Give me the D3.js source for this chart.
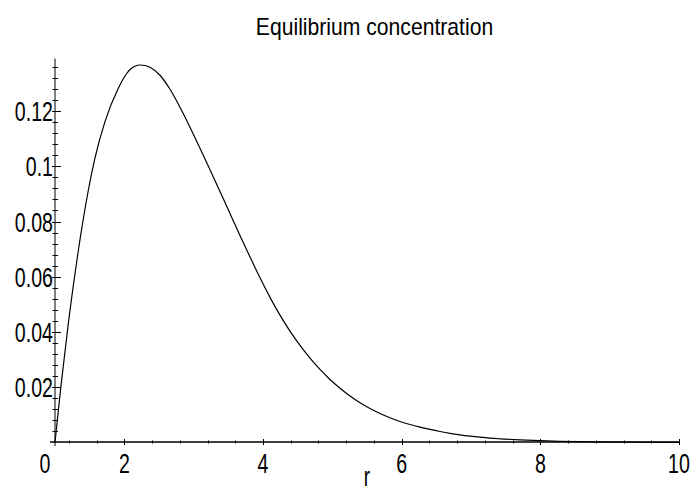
<!DOCTYPE html>
<html>
<head>
<meta charset="utf-8">
<script src="https://cdn.jsdelivr.net/npm/d3@7"></script>
<style>
  body { margin: 0; background: #fff; }
  text { font-family: "Liberation Sans", Arial, sans-serif; fill: #000; }
</style>
</head>
<body>
<div id="chart-area"></div>
<script>
const WIDTH = 698;
const HEIGHT = 490;

// values
const rValues = [1, 1.082, 1.192, 1.327, 1.48, 1.577, 1.721, 1.913, 2.034, 2.082, 2.154, 2.226,
    2.298, 2.37, 2.514, 2.659, 2.803, 2.947, 3.091, 3.236, 3.38, 3.524, 3.668, 3.813, 3.957,
    4.101, 4.245, 4.389, 4.534, 4.678, 4.822, 4.966, 5.111, 5.255, 5.399, 5.543, 5.688, 5.832,
    5.976, 6.12, 6.264, 6.409, 6.553, 6.697, 6.841, 6.986, 7.13, 7.274, 7.418, 7.707, 7.995,
    8.284, 8.572, 9.005, 9.438, 10];
const concValues = [0, 0.01962, 0.04308, 0.06787, 0.09122, 0.10299, 0.11613, 0.12822, 0.13357,
    0.13502, 0.13622, 0.13665, 0.13647, 0.13584, 0.13294, 0.12787, 0.12136, 0.11412, 0.10652,
    0.09873, 0.09084, 0.08288, 0.07491, 0.06713, 0.0596, 0.05254, 0.0461, 0.04031, 0.03513,
    0.03053, 0.02644, 0.02282, 0.01964, 0.01685, 0.01443, 0.01233, 0.01052, 0.00896, 0.00762,
    0.0065, 0.00554, 0.00472, 0.00398, 0.00333, 0.00279, 0.00232, 0.00192, 0.00159, 0.00134,
    0.00094, 0.00065, 0.00043, 0.00029, 0.00016, 0.00009, 0.00004];

const xTickLabels = [2, 4, 6, 8, 10];
const yTickLabels = [0.02, 0.04, 0.06, 0.08, 0.1, 0.12];
const xMinorTicks = d3.range(1.2, 10.01, 0.4);
const yMinorTicks = d3.range(0.004, 0.1391, 0.004);

const title = "Equilibrium concentration";
const xLabel = "r";
const originLabel = "0";

const x = d3.scaleLinear().domain([1, 10]).range([55, 679]);
const y = d3.scaleLinear().domain([0, 0.14]).range([442.5, 55.75]);

const svg = d3.select('#chart-area').append('svg')
    .attr("width", WIDTH)
    .attr("height", HEIGHT)
    .style("display", "block");

svg.append("rect")
    .attr("width", WIDTH)
    .attr("height", HEIGHT)
    .attr("fill", "#fff");

// y axis (grey, as in the picture)
const yAxisX = x(1);
svg.append("line")
    .attr("x1", yAxisX).attr("x2", yAxisX)
    .attr("y1", y(0.139)).attr("y2", 446)
    .attr("stroke", "#808080")
    .attr("stroke-width", 2);

svg.append("g")
    .selectAll("line")
    .data(yMinorTicks)
    .join("line")
    .attr("x1", yAxisX - 2.5).attr("x2", yAxisX + 3)
    .attr("y1", d => Math.round(y(d)) + 0.5)
    .attr("y2", d => Math.round(y(d)) + 0.5)
    .attr("stroke", "#000")
    .attr("stroke-width", 1);

svg.append("g")
    .selectAll("line")
    .data(yTickLabels)
    .join("line")
    .attr("x1", yAxisX - 3).attr("x2", yAxisX + 6)
    .attr("y1", d => Math.round(y(d)) + 0.5)
    .attr("y2", d => Math.round(y(d)) + 0.5)
    .attr("stroke", "#000")
    .attr("stroke-width", 1);

svg.append("g")
    .selectAll("text")
    .data(yTickLabels)
    .join("text")
    .attr("transform", d => `translate(53,${y(d) + 10}) scale(0.7,1)`)
    .attr("text-anchor", "end")
    .attr("font-size", 28)
    .text(d => String(d));

// x axis
const xAxisY = 442;
svg.append("line")
    .attr("x1", 50).attr("x2", x(10))
    .attr("y1", xAxisY).attr("y2", xAxisY)
    .attr("stroke", "#000")
    .attr("stroke-width", 1.3);

svg.append("g")
    .selectAll("line")
    .data(xMinorTicks)
    .join("line")
    .attr("x1", d => Math.round(x(d)) + 0.5)
    .attr("x2", d => Math.round(x(d)) + 0.5)
    .attr("y1", xAxisY - 1.5).attr("y2", xAxisY + 1.5)
    .attr("stroke", "#000")
    .attr("stroke-width", 1);

svg.append("g")
    .selectAll("line")
    .data(xTickLabels)
    .join("line")
    .attr("x1", d => Math.round(x(d)) + 0.5)
    .attr("x2", d => Math.round(x(d)) + 0.5)
    .attr("y1", xAxisY - 3).attr("y2", xAxisY + 3)
    .attr("stroke", "#000")
    .attr("stroke-width", 1);

svg.append("g")
    .selectAll("text")
    .data(xTickLabels)
    .join("text")
    .attr("transform", d => `translate(${x(d)},472.5) scale(0.7,1)`)
    .attr("text-anchor", "middle")
    .attr("font-size", 28)
    .text(d => String(d));

svg.append("text")
    .attr("transform", `translate(45,472.5) scale(0.7,1)`)
    .attr("text-anchor", "middle")
    .attr("font-size", 28)
    .text(originLabel);

svg.append("text")
    .attr("transform", `translate(367,486) scale(0.7,1)`)
    .attr("text-anchor", "middle")
    .attr("font-size", 27)
    .text(xLabel);

// title
svg.append("text")
    .attr("transform", `translate(374.5,34.5) scale(0.92,1)`)
    .attr("text-anchor", "middle")
    .attr("font-size", 23)
    .text(title);

// the curve
const points = rValues.map((r, i) => [r, concValues[i]]);
const line = d3.line()
    .x(d => x(d[0]))
    .y(d => y(d[1]))
    .curve(d3.curveMonotoneX);

svg.append("path")
    .datum(points)
    .attr("fill", "none")
    .attr("stroke", "#000")
    .attr("stroke-width", 1.2)
    .attr("d", line);
</script>
</body>
</html>
